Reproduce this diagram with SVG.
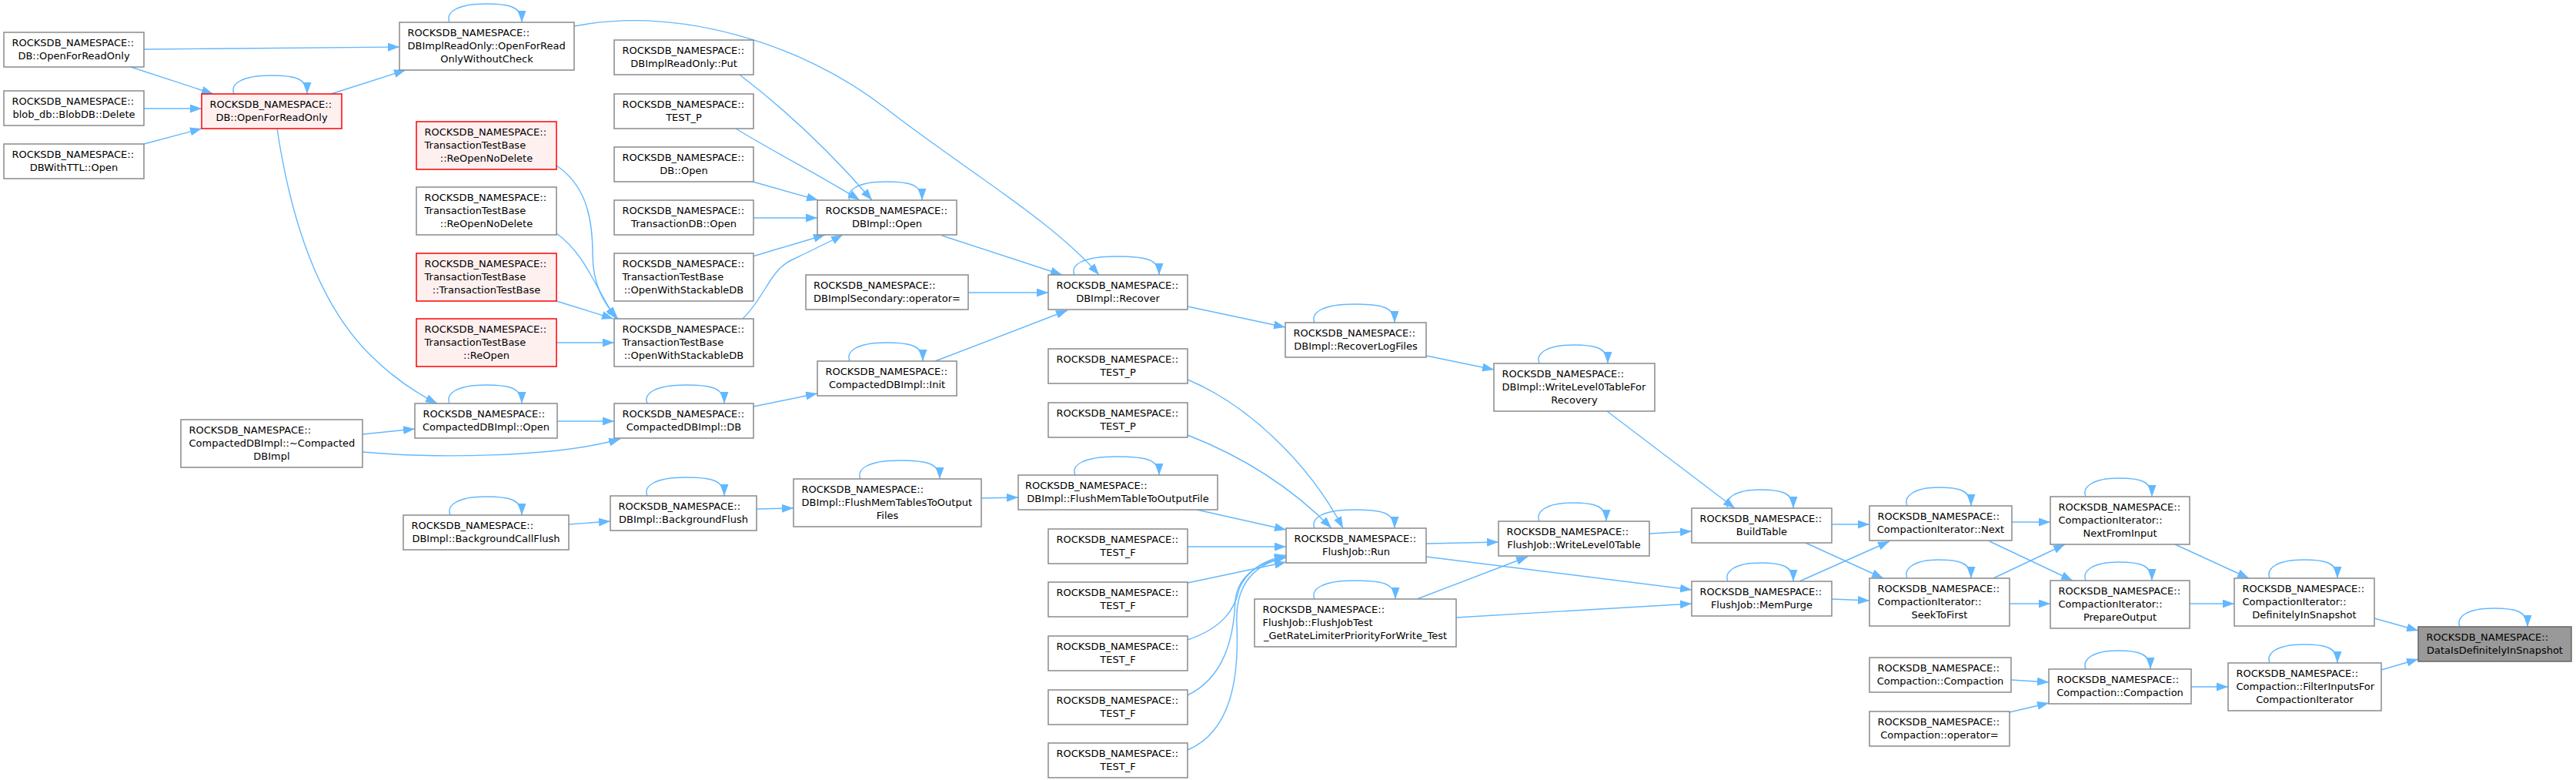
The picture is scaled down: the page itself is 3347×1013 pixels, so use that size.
<svg xmlns="http://www.w3.org/2000/svg" width="3347" height="1013" viewBox="0 0 3347 1013">
<style>
.node rect{fill:#ffffff;stroke:#8a8a8a;stroke-width:1.5}
.node.red rect{fill:#fff0f0;stroke:#ff0000}
.node.target rect{fill:#999999;stroke:#666666}
.node text{font-family:"DejaVu Sans",sans-serif;font-size:13px;fill:#000}
.node text.c{text-anchor:middle}
#edges path{fill:none;stroke:#63b8ff;stroke-width:1.4;marker-end:url(#ah)}
</style>
<defs>
<marker id="ah" markerWidth="15" markerHeight="11" refX="15" refY="5.5" orient="auto" markerUnits="userSpaceOnUse"><path d="M0,0 L15,5.5 L0,11 z" fill="#63b8ff"/></marker>
</defs>
<rect width="3347" height="1013" fill="#ffffff"/>
<g id="edges">
<path d="M187,64 C300,63 420,62 519,61"/>
<path d="M170,87 L277,122"/>
<path d="M187,141 L262,141"/>
<path d="M187,187 L262,167"/>
<path d="M430,122 L527,91"/>
<path d="M746,34 C880,8 1040,55 1150,140 C1260,225 1365,285 1428,357"/>
<path d="M360,167 C380,300 420,400 480,460 C510,490 540,510 568,524"/>
<path d="M723,215 C760,240 770,280 770,330 C770,370 785,395 803,414"/>
<path d="M723,303 C760,330 772,370 800,414"/>
<path d="M723,391 L797,414"/>
<path d="M723,445 L798,445"/>
<path d="M961,97 C1030,150 1090,210 1133,260"/>
<path d="M956,167 C1010,200 1070,230 1117,260"/>
<path d="M978,236 L1063,260"/>
<path d="M979,283 L1062,283"/>
<path d="M978,333 L1072,305"/>
<path d="M965,414 C995,385 1000,350 1030,337 C1055,325 1080,313 1095,305"/>
<path d="M1224,306 L1380,357"/>
<path d="M1258,380 L1362,380"/>
<path d="M1215,469 L1387,403"/>
<path d="M1543,398 L1670,425"/>
<path d="M471,564 L539,557"/>
<path d="M471,587 C560,595 720,595 806,570"/>
<path d="M724,547 L798,547"/>
<path d="M979,528 L1062,511"/>
<path d="M739,681 L793,677"/>
<path d="M983,661 L1031,660"/>
<path d="M1275,647 L1323,646"/>
<path d="M1555,662 L1671,688"/>
<path d="M1543,493 C1620,525 1700,600 1745,686"/>
<path d="M1543,565 C1620,595 1680,635 1730,686"/>
<path d="M1543,710 L1671,710"/>
<path d="M1543,757 L1671,730"/>
<path d="M1543,831 C1590,815 1605,790 1610,765 C1620,740 1645,727 1671,721"/>
<path d="M1543,903 C1590,880 1603,830 1605,780 C1608,745 1640,730 1671,723"/>
<path d="M1543,974 C1600,950 1610,880 1607,810 C1604,750 1640,730 1671,724"/>
<path d="M1853,706 L1947,704"/>
<path d="M1853,723 L2198,766"/>
<path d="M1841,778 L1985,723"/>
<path d="M1892,802 L2198,784"/>
<path d="M2143,693 L2198,690"/>
<path d="M2088,534 L2254,660"/>
<path d="M1853,462 L1941,480"/>
<path d="M2380,681 L2429,681"/>
<path d="M2346,705 L2447,751"/>
<path d="M2338,755 L2455,703"/>
<path d="M2380,778 L2429,780"/>
<path d="M2614,678 L2664,678"/>
<path d="M2585,703 L2693,754"/>
<path d="M2590,751 L2683,707"/>
<path d="M2611,784 L2664,784"/>
<path d="M2826,707 L2922,751"/>
<path d="M2845,784 L2903,784"/>
<path d="M3085,803 L3142,819"/>
<path d="M3094,870 L3142,856"/>
<path d="M2613,883 L2662,886"/>
<path d="M2611,925 L2662,913"/>
<path d="M2847,892 L2895,892"/>
<path d="M304,122 C299,110 312,98 352,98 C384,98 399,102 399,122"/>
<path d="M584,29 C579,17 592,5 631,5 C663,5 678,9 678,29"/>
<path d="M1104,260 C1099,248 1112,236 1151,236 C1183,236 1198,240 1198,260"/>
<path d="M1396,357 C1391,345 1404,333 1451,333 C1490,333 1506,337 1506,357"/>
<path d="M1104,469 C1099,457 1112,445 1151,445 C1184,445 1199,449 1199,469"/>
<path d="M584,524 C579,512 592,500 631,500 C663,500 678,504 678,524"/>
<path d="M841,524 C836,512 849,500 891,500 C925,500 941,504 941,524"/>
<path d="M585,669 C580,657 593,645 631,645 C663,645 678,649 678,669"/>
<path d="M841,644 C836,632 849,620 891,620 C925,620 941,624 941,644"/>
<path d="M1118,622 C1113,610 1126,598 1169,598 C1205,598 1221,602 1221,622"/>
<path d="M1397,617 C1392,605 1405,593 1451,593 C1490,593 1506,597 1506,617"/>
<path d="M1708,419 C1703,407 1716,395 1760,395 C1796,395 1812,399 1812,419"/>
<path d="M2000,472 C1995,460 2008,448 2044,448 C2074,448 2089,452 2089,472"/>
<path d="M1708,686 C1703,674 1716,662 1760,662 C1796,662 1812,666 1812,686"/>
<path d="M1708,778 C1703,766 1716,754 1760,754 C1797,754 1813,758 1813,778"/>
<path d="M2000,677 C1995,665 2008,653 2043,653 C2072,653 2087,657 2087,677"/>
<path d="M2245,660 C2240,648 2253,636 2287,636 C2315,636 2330,640 2330,660"/>
<path d="M2245,755 C2240,743 2253,731 2287,731 C2315,731 2330,735 2330,755"/>
<path d="M2478,657 C2473,645 2486,633 2519,633 C2546,633 2561,637 2561,657"/>
<path d="M2478,751 C2473,739 2486,727 2519,727 C2546,727 2561,731 2561,751"/>
<path d="M2710,645 C2705,633 2718,621 2753,621 C2781,621 2796,625 2796,645"/>
<path d="M2710,754 C2705,742 2718,730 2753,730 C2781,730 2796,734 2796,754"/>
<path d="M2710,869 C2705,857 2718,845 2752,845 C2779,845 2794,849 2794,869"/>
<path d="M2949,751 C2944,739 2957,727 2993,727 C3022,727 3037,731 3037,751"/>
<path d="M2949,861 C2944,849 2957,837 2993,837 C3022,837 3037,841 3037,861"/>
<path d="M3196,814 C3191,802 3204,790 3240,790 C3269,790 3284,794 3284,814"/>
</g>
<g id="n1" class="node"><rect x="5" y="42" width="182" height="45"/><text x="15.5" y="60">ROCKSDB_NAMESPACE::</text><text class="c" x="96" y="77">DB::OpenForReadOnly</text></g>
<g id="n2" class="node"><rect x="5" y="118" width="182" height="45"/><text x="15.5" y="136">ROCKSDB_NAMESPACE::</text><text class="c" x="96" y="153">blob_db::BlobDB::Delete</text></g>
<g id="n3" class="node"><rect x="5" y="187" width="182" height="45"/><text x="15.5" y="205">ROCKSDB_NAMESPACE::</text><text class="c" x="96" y="222">DBWithTTL::Open</text></g>
<g id="n4" class="node red"><rect x="262" y="122" width="182" height="45"/><text x="272.5" y="140">ROCKSDB_NAMESPACE::</text><text class="c" x="353" y="157">DB::OpenForReadOnly</text></g>
<g id="n5" class="node"><rect x="519" y="29" width="227" height="62"/><text x="529.5" y="47">ROCKSDB_NAMESPACE::</text><text x="529.5" y="64">DBImplReadOnly::OpenForRead</text><text class="c" x="632.5" y="81">OnlyWithoutCheck</text></g>
<g id="n6" class="node red"><rect x="541" y="158" width="182" height="62"/><text x="551.5" y="176">ROCKSDB_NAMESPACE::</text><text x="551.5" y="193">TransactionTestBase</text><text class="c" x="632" y="210">::ReOpenNoDelete</text></g>
<g id="n7" class="node"><rect x="541" y="243" width="182" height="62"/><text x="551.5" y="261">ROCKSDB_NAMESPACE::</text><text x="551.5" y="278">TransactionTestBase</text><text class="c" x="632" y="295">::ReOpenNoDelete</text></g>
<g id="n8" class="node red"><rect x="541" y="329" width="182" height="62"/><text x="551.5" y="347">ROCKSDB_NAMESPACE::</text><text x="551.5" y="364">TransactionTestBase</text><text class="c" x="632" y="381">::TransactionTestBase</text></g>
<g id="n9" class="node red"><rect x="541" y="414" width="182" height="62"/><text x="551.5" y="432">ROCKSDB_NAMESPACE::</text><text x="551.5" y="449">TransactionTestBase</text><text class="c" x="632" y="466">::ReOpen</text></g>
<g id="n10" class="node"><rect x="235" y="545" width="236" height="62"/><text x="245.5" y="563">ROCKSDB_NAMESPACE::</text><text x="245.5" y="580">CompactedDBImpl::~Compacted</text><text class="c" x="353" y="597">DBImpl</text></g>
<g id="n11" class="node"><rect x="539" y="524" width="185" height="45"/><text x="549.5" y="542">ROCKSDB_NAMESPACE::</text><text class="c" x="631.5" y="559">CompactedDBImpl::Open</text></g>
<g id="n12" class="node"><rect x="524" y="669" width="215" height="45"/><text x="534.5" y="687">ROCKSDB_NAMESPACE::</text><text class="c" x="631.5" y="704">DBImpl::BackgroundCallFlush</text></g>
<g id="n13" class="node"><rect x="798" y="52" width="181" height="45"/><text x="808.5" y="70">ROCKSDB_NAMESPACE::</text><text class="c" x="888.5" y="87">DBImplReadOnly::Put</text></g>
<g id="n14" class="node"><rect x="798" y="122" width="181" height="45"/><text x="808.5" y="140">ROCKSDB_NAMESPACE::</text><text class="c" x="888.5" y="157">TEST_P</text></g>
<g id="n15" class="node"><rect x="798" y="191" width="181" height="45"/><text x="808.5" y="209">ROCKSDB_NAMESPACE::</text><text class="c" x="888.5" y="226">DB::Open</text></g>
<g id="n16" class="node"><rect x="798" y="260" width="181" height="45"/><text x="808.5" y="278">ROCKSDB_NAMESPACE::</text><text class="c" x="888.5" y="295">TransactionDB::Open</text></g>
<g id="n17" class="node"><rect x="798" y="329" width="181" height="62"/><text x="808.5" y="347">ROCKSDB_NAMESPACE::</text><text x="808.5" y="364">TransactionTestBase</text><text class="c" x="888.5" y="381">::OpenWithStackableDB</text></g>
<g id="n18" class="node"><rect x="798" y="414" width="181" height="62"/><text x="808.5" y="432">ROCKSDB_NAMESPACE::</text><text x="808.5" y="449">TransactionTestBase</text><text class="c" x="888.5" y="466">::OpenWithStackableDB</text></g>
<g id="n19" class="node"><rect x="798" y="524" width="181" height="45"/><text x="808.5" y="542">ROCKSDB_NAMESPACE::</text><text class="c" x="888.5" y="559">CompactedDBImpl::DB</text></g>
<g id="n20" class="node"><rect x="793" y="644" width="190" height="45"/><text x="803.5" y="662">ROCKSDB_NAMESPACE::</text><text class="c" x="888" y="679">DBImpl::BackgroundFlush</text></g>
<g id="n21" class="node"><rect x="1062" y="260" width="181" height="45"/><text x="1072.5" y="278">ROCKSDB_NAMESPACE::</text><text class="c" x="1152.5" y="295">DBImpl::Open</text></g>
<g id="n22" class="node"><rect x="1047" y="357" width="211" height="45"/><text x="1057" y="375">ROCKSDB_NAMESPACE::</text><text class="c" x="1152.5" y="392">DBImplSecondary::operator=</text></g>
<g id="n23" class="node"><rect x="1062" y="469" width="181" height="45"/><text x="1072.5" y="487">ROCKSDB_NAMESPACE::</text><text class="c" x="1152.5" y="504">CompactedDBImpl::Init</text></g>
<g id="n24" class="node"><rect x="1031" y="622" width="244" height="62"/><text x="1041.5" y="640">ROCKSDB_NAMESPACE::</text><text x="1041.5" y="657">DBImpl::FlushMemTablesToOutput</text><text class="c" x="1153" y="674">Files</text></g>
<g id="n25" class="node"><rect x="1362" y="357" width="181" height="45"/><text x="1372.5" y="375">ROCKSDB_NAMESPACE::</text><text class="c" x="1452.5" y="392">DBImpl::Recover</text></g>
<g id="n26" class="node"><rect x="1362" y="453" width="181" height="45"/><text x="1372.5" y="471">ROCKSDB_NAMESPACE::</text><text class="c" x="1452.5" y="488">TEST_P</text></g>
<g id="n27" class="node"><rect x="1362" y="523" width="181" height="45"/><text x="1372.5" y="541">ROCKSDB_NAMESPACE::</text><text class="c" x="1452.5" y="558">TEST_P</text></g>
<g id="n28" class="node"><rect x="1323" y="617" width="259" height="45"/><text x="1332" y="635">ROCKSDB_NAMESPACE::</text><text class="c" x="1452.5" y="652">DBImpl::FlushMemTableToOutputFile</text></g>
<g id="n29" class="node"><rect x="1362" y="687" width="181" height="45"/><text x="1372.5" y="705">ROCKSDB_NAMESPACE::</text><text class="c" x="1452.5" y="722">TEST_F</text></g>
<g id="n30" class="node"><rect x="1362" y="756" width="181" height="45"/><text x="1372.5" y="774">ROCKSDB_NAMESPACE::</text><text class="c" x="1452.5" y="791">TEST_F</text></g>
<g id="n31" class="node"><rect x="1362" y="826" width="181" height="45"/><text x="1372.5" y="844">ROCKSDB_NAMESPACE::</text><text class="c" x="1452.5" y="861">TEST_F</text></g>
<g id="n32" class="node"><rect x="1362" y="896" width="181" height="45"/><text x="1372.5" y="914">ROCKSDB_NAMESPACE::</text><text class="c" x="1452.5" y="931">TEST_F</text></g>
<g id="n33" class="node"><rect x="1362" y="965" width="181" height="45"/><text x="1372.5" y="983">ROCKSDB_NAMESPACE::</text><text class="c" x="1452.5" y="1000">TEST_F</text></g>
<g id="n34" class="node"><rect x="1670" y="419" width="183" height="45"/><text x="1680.5" y="437">ROCKSDB_NAMESPACE::</text><text class="c" x="1761.5" y="454">DBImpl::RecoverLogFiles</text></g>
<g id="n35" class="node"><rect x="1671" y="686" width="182" height="45"/><text x="1681.5" y="704">ROCKSDB_NAMESPACE::</text><text class="c" x="1762" y="721">FlushJob::Run</text></g>
<g id="n36" class="node"><rect x="1630" y="778" width="262" height="62"/><text x="1640.5" y="796">ROCKSDB_NAMESPACE::</text><text x="1640.5" y="813">FlushJob::FlushJobTest</text><text class="c" x="1761" y="830">_GetRateLimiterPriorityForWrite_Test</text></g>
<g id="n37" class="node"><rect x="1941" y="472" width="209" height="62"/><text x="1951.5" y="490">ROCKSDB_NAMESPACE::</text><text x="1951.5" y="507">DBImpl::WriteLevel0TableFor</text><text class="c" x="2045.5" y="524">Recovery</text></g>
<g id="n38" class="node"><rect x="1947" y="677" width="196" height="45"/><text x="1957.5" y="695">ROCKSDB_NAMESPACE::</text><text class="c" x="2045" y="712">FlushJob::WriteLevel0Table</text></g>
<g id="n39" class="node"><rect x="2198" y="660" width="182" height="45"/><text x="2208.5" y="678">ROCKSDB_NAMESPACE::</text><text class="c" x="2289" y="695">BuildTable</text></g>
<g id="n40" class="node"><rect x="2198" y="755" width="182" height="45"/><text x="2208.5" y="773">ROCKSDB_NAMESPACE::</text><text class="c" x="2289" y="790">FlushJob::MemPurge</text></g>
<g id="n41" class="node"><rect x="2429" y="657" width="185" height="45"/><text x="2439.5" y="675">ROCKSDB_NAMESPACE::</text><text class="c" x="2521.5" y="692">CompactionIterator::Next</text></g>
<g id="n42" class="node"><rect x="2429" y="751" width="182" height="62"/><text x="2439.5" y="769">ROCKSDB_NAMESPACE::</text><text x="2439.5" y="786">CompactionIterator::</text><text class="c" x="2520" y="803">SeekToFirst</text></g>
<g id="n43" class="node"><rect x="2429" y="854" width="184" height="45"/><text x="2439.5" y="872">ROCKSDB_NAMESPACE::</text><text class="c" x="2521" y="889">Compaction::Compaction</text></g>
<g id="n44" class="node"><rect x="2429" y="924" width="182" height="45"/><text x="2439.5" y="942">ROCKSDB_NAMESPACE::</text><text class="c" x="2520" y="959">Compaction::operator=</text></g>
<g id="n45" class="node"><rect x="2664" y="645" width="181" height="62"/><text x="2674.5" y="663">ROCKSDB_NAMESPACE::</text><text x="2674.5" y="680">CompactionIterator::</text><text class="c" x="2754.5" y="697">NextFromInput</text></g>
<g id="n46" class="node"><rect x="2664" y="754" width="181" height="62"/><text x="2674.5" y="772">ROCKSDB_NAMESPACE::</text><text x="2674.5" y="789">CompactionIterator::</text><text class="c" x="2754.5" y="806">PrepareOutput</text></g>
<g id="n47" class="node"><rect x="2662" y="869" width="185" height="45"/><text x="2672.5" y="887">ROCKSDB_NAMESPACE::</text><text class="c" x="2754.5" y="904">Compaction::Compaction</text></g>
<g id="n48" class="node"><rect x="2903" y="751" width="182" height="62"/><text x="2913.5" y="769">ROCKSDB_NAMESPACE::</text><text x="2913.5" y="786">CompactionIterator::</text><text class="c" x="2994" y="803">DefinitelyInSnapshot</text></g>
<g id="n49" class="node"><rect x="2895" y="861" width="199" height="62"/><text x="2905.5" y="879">ROCKSDB_NAMESPACE::</text><text x="2905.5" y="896">Compaction::FilterInputsFor</text><text class="c" x="2994.5" y="913">CompactionIterator</text></g>
<g id="n50" class="node target"><rect x="3142" y="814" width="199" height="45"/><text x="3152.5" y="832">ROCKSDB_NAMESPACE::</text><text class="c" x="3241.5" y="849">DataIsDefinitelyInSnapshot</text></g>
</svg>
